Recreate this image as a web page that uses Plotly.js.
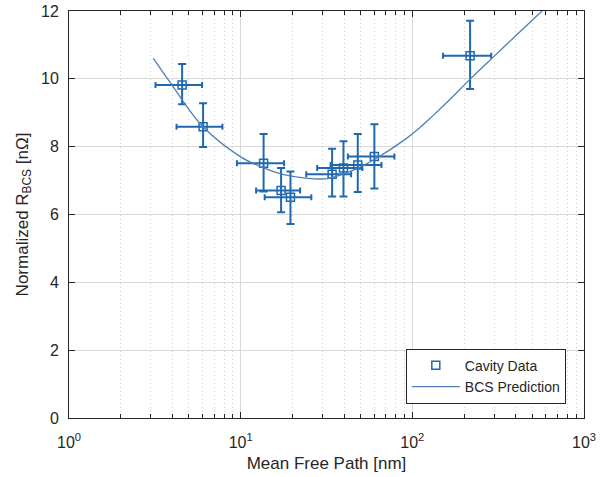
<!DOCTYPE html>
<html>
<head>
<meta charset="utf-8">
<script src="https://cdn.plot.ly/plotly-3.0.1.min.js"></script>
<style>html,body{margin:0;padding:0;background:#fff;}#chart{width:612px;height:477px;}</style>
</head>
<body>
<div id="chart"></div>
<script>
// Cavity data (mean free path in nm, normalized R_BCS in nOhm)
var mfp     = [4.56, 6.04, 13.6, 17.2, 19.5, 34.1, 39.7, 48.1, 60.1, 217];
var mfpLow  = [3.19, 4.23, 9.51, 12.3, 13.8, 24.1, 27.9, 33.4, 42.1, 151];
var mfpHigh = [5.96, 7.83, 17.9, 22.2, 25.8, 44.0, 51.2, 66.1, 78.6, 288];
var rbcs    = [9.82, 8.59, 7.51, 6.71, 6.51, 7.19, 7.37, 7.46, 7.71, 10.68];
var rLow    = [9.25, 7.99, 6.68, 6.07, 5.72, 6.53, 6.53, 6.66, 6.77, 9.70];
var rHigh   = [10.44, 9.28, 8.37, 7.37, 7.27, 7.94, 8.16, 8.37, 8.66, 11.71];

// BCS prediction curve
var curveX = [3.1, 4, 6, 10, 13.5, 17.6, 24, 32, 45, 60, 90, 110, 131, 170, 220, 300, 400, 570];
var curveY = [10.6, 9.8, 8.6, 7.7, 7.38, 7.18, 7.07, 7.06, 7.3, 7.62, 8.2, 8.55, 8.9, 9.45, 10.02, 10.67, 11.27, 12.0];

// Tick labels
var xTickVals = [1, 10, 100, 1000];
var xTickText = ['10<sup>0</sup>', '10<sup>1</sup>', '10<sup>2</sup>', '10<sup>3</sup>'];
var yTickVals = [0, 2, 4, 6, 8, 10, 12];

var blue = '#1f68b0';
var ink = '#262626';

var dataTrace = {
  x: mfp, y: rbcs, type: 'scatter', mode: 'markers', name: 'Cavity Data',
  marker: {symbol: 'square-open', size: 8, color: blue, line: {width: 1.5, color: blue}},
  error_y: {type: 'data', symmetric: false,
    array: rHigh.map(function(v, i){ return v - rbcs[i]; }),
    arrayminus: rbcs.map(function(v, i){ return v - rLow[i]; }),
    color: blue, thickness: 2, width: 4},
  error_x: {type: 'data', symmetric: false,
    array: mfpHigh.map(function(v, i){ return v - mfp[i]; }),
    arrayminus: mfp.map(function(v, i){ return v - mfpLow[i]; }),
    color: blue, thickness: 2, width: 3}
};
var curveTrace = {
  x: curveX, y: curveY, type: 'scatter', mode: 'lines', name: 'BCS Prediction',
  line: {color: '#4f7fb8', width: 1.3, shape: 'spline', smoothing: 1}
};

var layout = {
  width: 612, height: 477,
  margin: {l: 69, r: 28, t: 11, b: 59},
  paper_bgcolor: '#fff', plot_bgcolor: '#fff',
  font: {family: 'Liberation Sans, Arial, sans-serif', size: 16, color: ink},
  showlegend: true,
  legend: {x: 0.654, y: 0.035, xanchor: 'left', yanchor: 'bottom',
    bgcolor: '#fff', bordercolor: ink, borderwidth: 1,
    font: {size: 14, color: ink}, itemwidth: 48, tracegroupgap: 0},
  xaxis: {
    type: 'log', range: [0, 3], automargin: false,
    tickmode: 'array', tickvals: xTickVals, ticktext: xTickText,
    ticks: 'inside', ticklen: 6, tickcolor: ink, ticklabelstandoff: 10,
    showline: true, linecolor: ink, linewidth: 1, mirror: 'ticks',
    showgrid: true, gridcolor: '#d9d9d9', gridwidth: 1,
    minor: {dtick: 'D1', ticks: 'inside', ticklen: 4, tickcolor: ink,
            showgrid: true, gridcolor: '#d2d2d2', griddash: '1px,3px', gridwidth: 1},
    zeroline: false,
    title: {text: 'Mean Free Path [nm]', font: {size: 17, color: ink}, standoff: 6},
    tickfont: {size: 16}
  },
  yaxis: {
    range: [0, 12], tickmode: 'array', tickvals: yTickVals, automargin: false,
    ticks: 'inside', ticklen: 6, tickcolor: ink, ticklabelstandoff: 6,
    showline: true, linecolor: ink, linewidth: 1, mirror: 'ticks',
    showgrid: true, gridcolor: '#d9d9d9', gridwidth: 1,
    zeroline: false,
    title: {text: 'Normalized R<sub>BCS</sub> [nΩ]', font: {size: 17, color: ink}, standoff: 8},
    tickfont: {size: 16}
  }
};

Plotly.newPlot('chart', [dataTrace, curveTrace], layout, {displayModeBar: false, staticPlot: true});
</script>
</body>
</html>
